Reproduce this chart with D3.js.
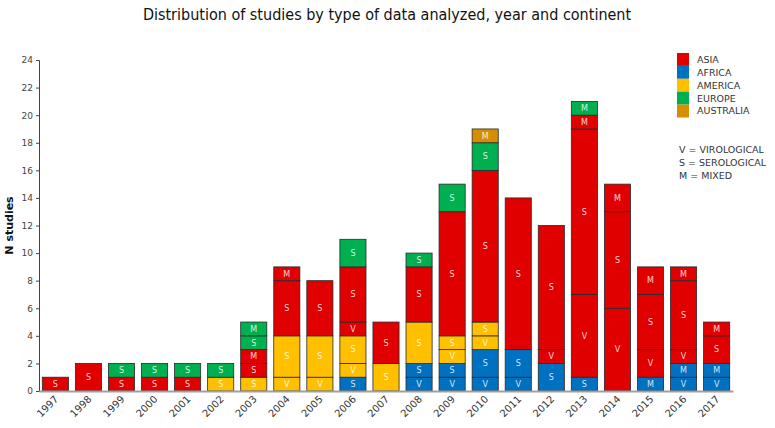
<!DOCTYPE html>
<html>
<head>
<meta charset="utf-8">
<script src="https://cdn.jsdelivr.net/npm/d3@7"></script>
<style>
  body { margin: 0; background: #fff; }
  svg { display: block; }
</style>
</head>
<body>
<div id="chart"></div>
<script>
// years on the x axis
const years = ["1997","1998","1999","2000","2001","2002","2003","2004","2005","2006","2007",
  "2008","2009","2010","2011","2012","2013","2014","2015","2016","2017"];

// studies per year, split by continent and data type (V / S / M)
const africaV    = [0,0,0,0,0,0,0,0,0,0,0,1,1,1,1,0,0,0,0,1,1];
const africaS    = [0,0,0,0,0,0,0,0,0,1,0,1,1,2,2,2,1,0,0,0,0];
const africaM    = [0,0,0,0,0,0,0,0,0,0,0,0,0,0,0,0,0,0,1,1,1];
const americaV   = [0,0,0,0,0,0,0,1,1,1,0,0,1,1,0,0,0,0,0,0,0];
const americaS   = [0,0,0,0,0,1,1,3,3,2,2,3,1,1,0,0,0,0,0,0,0];
const asiaV      = [0,0,0,0,0,0,0,0,0,1,0,0,0,0,0,1,6,6,2,1,0];
const asiaS      = [1,2,1,1,1,0,1,4,4,4,3,4,9,11,11,9,12,7,4,5,2];
const asiaM      = [0,0,0,0,0,0,1,1,0,0,0,0,0,0,0,0,1,2,2,1,1];
const europeS    = [0,0,1,1,1,1,1,0,0,2,0,1,2,2,0,0,0,0,0,0,0];
const europeM    = [0,0,0,0,0,0,1,0,0,0,0,0,0,0,0,0,1,0,0,0,0];
const australiaM = [0,0,0,0,0,0,0,0,0,0,0,0,0,1,0,0,0,0,0,0,0];

const yTicks = [0,2,4,6,8,10,12,14,16,18,20,22,24];
const legendLabels = ["ASIA","AFRICA","AMERICA","EUROPE","AUSTRALIA"];
const typeLabels = ["V = VIROLOGICAL","S = SEROLOGICAL","M = MIXED"];

const colors = {
  ASIA: "#e00000",
  AFRICA: "#0070c0",
  AMERICA: "#ffc000",
  EUROPE: "#00b050",
  AUSTRALIA: "#d48e00"
};

// stacking order, bottom to top
const series = [
  { key: "africaV", continent: "AFRICA", type: "V", values: africaV },
  { key: "africaS", continent: "AFRICA", type: "S", values: africaS },
  { key: "africaM", continent: "AFRICA", type: "M", values: africaM },
  { key: "americaV", continent: "AMERICA", type: "V", values: americaV },
  { key: "americaS", continent: "AMERICA", type: "S", values: americaS },
  { key: "asiaV", continent: "ASIA", type: "V", values: asiaV },
  { key: "asiaS", continent: "ASIA", type: "S", values: asiaS },
  { key: "asiaM", continent: "ASIA", type: "M", values: asiaM },
  { key: "europeS", continent: "EUROPE", type: "S", values: europeS },
  { key: "europeM", continent: "EUROPE", type: "M", values: europeM },
  { key: "australiaM", continent: "AUSTRALIA", type: "M", values: australiaM }
];

const table = years.map((y, i) => {
  const row = { year: y };
  series.forEach(s => { row[s.key] = s.values[i]; });
  return row;
});

const width = 775, height = 428;
const margin = { top: 60, right: 42, bottom: 37, left: 39 };

const svg = d3.select("#chart").append("svg")
  .attr("width", width)
  .attr("height", height)
  .style("font-family", "'DejaVu Sans', Verdana, sans-serif");

const x = d3.scaleBand()
  .domain(years)
  .range([margin.left, width - margin.right])
  .paddingInner(0.21)
  .paddingOuter(0.1);

const y = d3.scaleLinear()
  .domain([0, 24])
  .range([height - margin.bottom, margin.top]);

const stacked = d3.stack().keys(series.map(s => s.key))(table);

// bars
const layers = svg.append("g").selectAll("g")
  .data(stacked)
  .join("g")
  .attr("fill", (d, i) => colors[series[i].continent]);

layers.selectAll("rect")
  .data(d => d.filter(p => p[1] > p[0]))
  .join("rect")
  .attr("x", d => x(d.data.year))
  .attr("y", d => y(d[1]))
  .attr("width", x.bandwidth())
  .attr("height", d => y(d[0]) - y(d[1]))
  .attr("stroke", "#2a2a2a")
  .attr("stroke-width", 0.8);

// type letter inside each segment
layers.each(function(layer, i) {
  d3.select(this).selectAll("text")
    .data(layer.filter(p => p[1] > p[0]))
    .join("text")
    .attr("x", d => x(d.data.year) + x.bandwidth() / 2)
    .attr("y", d => (y(d[0]) + y(d[1])) / 2)
    .attr("dy", "0.35em")
    .attr("text-anchor", "middle")
    .attr("fill", "#fff")
    .attr("fill-opacity", 0.85)
    .style("font-size", "8px")
    .text(series[i].type);
});

// y axis
const yAxis = svg.append("g")
  .attr("transform", `translate(${margin.left},0)`)
  .call(d3.axisLeft(y).tickValues(yTicks).tickSize(3).tickPadding(3));
yAxis.select(".domain").attr("stroke", "#444");
yAxis.selectAll(".tick line").attr("stroke", "#444");
yAxis.selectAll(".tick text")
  .attr("fill", "#444")
  .style("font-size", "9px")
  .style("font-family", "'DejaVu Sans', Verdana, sans-serif");

// x axis
const xAxis = svg.append("g")
  .attr("transform", `translate(0,${height - margin.bottom})`)
  .call(d3.axisBottom(x).tickSize(0).tickPadding(6));
xAxis.select(".domain").attr("stroke", "#a0a0a0").attr("stroke-width", 2);
xAxis.selectAll(".tick text")
  .attr("fill", "#333")
  .attr("text-anchor", "end")
  .attr("transform", "translate(-3,2) rotate(-45)")
  .attr("dy", "0.35em")
  .style("font-size", "10px")
  .style("font-family", "'DejaVu Sans', Verdana, sans-serif");

// y label
svg.append("text")
  .attr("transform", `translate(13,${(y(0) + y(24)) / 2}) rotate(-90)`)
  .attr("text-anchor", "middle")
  .style("font-size", "11px")
  .style("font-weight", "bold")
  .attr("fill", "#111")
  .text("N studies");

// title
svg.append("text")
  .attr("x", 387)
  .attr("y", 20)
  .attr("text-anchor", "middle")
  .style("font-family", "'DejaVu Sans Condensed', 'Liberation Sans Narrow', sans-serif")
  .style("font-size", "16px")
  .attr("fill", "#111")
  .text("Distribution of studies by type of data analyzed, year and continent");

// continent legend
const legend = svg.append("g").attr("transform", "translate(677,53)");
legend.selectAll("rect")
  .data(legendLabels)
  .join("rect")
  .attr("x", 0)
  .attr("y", (d, i) => i * 12.9)
  .attr("width", 12)
  .attr("height", 12.9)
  .attr("fill", d => colors[d]);
legend.selectAll("text")
  .data(legendLabels)
  .join("text")
  .attr("x", 20)
  .attr("y", (d, i) => i * 12.9 + 6.5)
  .attr("dy", "0.35em")
  .attr("fill", "#333")
  .style("font-size", "9.5px")
  .text(d => d);

// data type key
svg.append("g").selectAll("text")
  .data(typeLabels)
  .join("text")
  .attr("x", 679)
  .attr("y", (d, i) => 150 + i * 12.8)
  .attr("dy", "0.35em")
  .attr("fill", "#333")
  .style("font-size", "9.5px")
  .text(d => d);
</script>
</body>
</html>
